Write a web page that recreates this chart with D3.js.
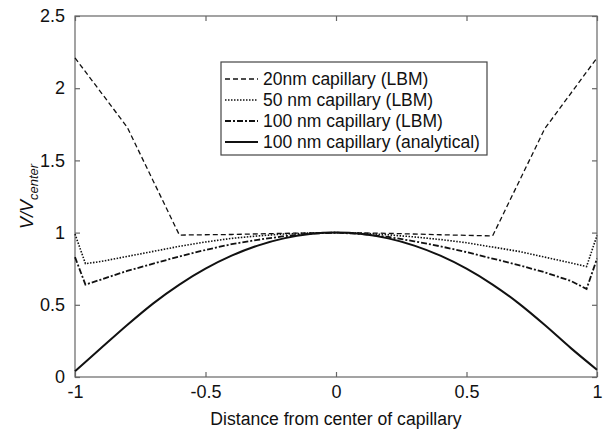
<!DOCTYPE html>
<html><head><meta charset="utf-8">
<script src="https://cdn.jsdelivr.net/npm/d3@7/dist/d3.min.js"></script>
<style>body{margin:0;background:#fff}svg{display:block}text{font-family:"Liberation Sans",Arial,sans-serif;fill:#111}</style>
</head><body><svg id="c" width="605" height="431"></svg>
<script>
// Data
const xs20 = [-1, -0.8, -0.6, -0.4, -0.2, 0, 0.2, 0.4, 0.6, 0.8, 1];
const v20  = [2.21, 1.73, 0.983, 0.987, 0.995, 1.0, 0.995, 0.985, 0.977, 1.72, 2.21];
const xsLBM = [-1, -0.96, -0.9, -0.8, -0.7, -0.6, -0.5, -0.4, -0.3, -0.2, -0.1, 0, 0.1, 0.2, 0.3, 0.4, 0.5, 0.6, 0.7, 0.8, 0.9, 0.96, 1];
const v50  = [0.99, 0.785, 0.80, 0.835, 0.87, 0.905, 0.935, 0.96, 0.977, 0.99, 0.997, 1.0, 0.996, 0.985, 0.97, 0.952, 0.93, 0.9, 0.87, 0.83, 0.79, 0.765, 0.98];
const v100 = [0.83, 0.64, 0.675, 0.735, 0.785, 0.835, 0.88, 0.92, 0.95, 0.975, 0.993, 1.0, 0.99, 0.97, 0.94, 0.905, 0.865, 0.82, 0.775, 0.725, 0.665, 0.61, 0.82];
const xsAn = [-1, -0.9, -0.8, -0.7, -0.6, -0.5, -0.4, -0.3, -0.2, -0.1, 0, 0.1, 0.2, 0.3, 0.4, 0.5, 0.6, 0.7, 0.8, 0.9, 1];
const vAn  = [0.04, 0.2, 0.36, 0.51, 0.64, 0.75, 0.84, 0.91, 0.96, 0.99, 1.0, 0.99, 0.96, 0.91, 0.84, 0.75, 0.64, 0.51, 0.36, 0.2, 0.05];
const xTicks = [-1, -0.5, 0, 0.5, 1];
const yTicks = [0, 0.5, 1, 1.5, 2, 2.5];
const legendLabels = ["20nm capillary (LBM)", "50 nm capillary (LBM)", "100 nm capillary (LBM)", "100 nm capillary (analytical)"];

const svg = d3.select("#c");
const L = 75, R = 597, T = 16, B = 377;
const x = d3.scaleLinear().domain([-1, 1]).range([L, R]);
const y = d3.scaleLinear().domain([0, 2.5]).range([B, T]);
const axisCol = "#666";

// box
svg.append("rect").attr("x", L).attr("y", T).attr("width", R - L).attr("height", B - T)
  .attr("fill", "none").attr("stroke", axisCol).attr("stroke-width", 1.2);

const tl = 5;
const fmt = d => String(d);
const axB = svg.append("g").attr("transform", `translate(0,${B})`)
  .call(d3.axisBottom(x).tickValues(xTicks).tickSize(-tl).tickPadding(tl + 3).tickFormat(fmt));
const axT = svg.append("g").attr("transform", `translate(0,${T})`)
  .call(d3.axisTop(x).tickValues(xTicks).tickSize(-tl).tickFormat(""));
const axL = svg.append("g").attr("transform", `translate(${L},0)`)
  .call(d3.axisLeft(y).tickValues(yTicks).tickSize(-tl).tickPadding(tl + 4).tickFormat(fmt));
const axR = svg.append("g").attr("transform", `translate(${R},0)`)
  .call(d3.axisRight(y).tickValues(yTicks).tickSize(-tl).tickFormat(""));
[axB, axT, axL, axR].forEach(g => {
  g.select(".domain").remove();
  g.selectAll(".tick line").attr("stroke", axisCol).attr("stroke-width", 1.2);
  g.selectAll(".tick text").attr("font-size", 18).attr("fill", "#111").attr("font-family", "Liberation Sans, Arial, sans-serif");
});
axL.selectAll(".tick text").attr("dx", -1);

// axis titles
svg.append("text").attr("x", x(0)).attr("y", 425).attr("text-anchor", "middle").attr("font-size", 17.6)
  .text("Distance from center of capillary");
const yl = svg.append("text").attr("transform", `translate(33,${y(1.25)}) rotate(-90)`).attr("text-anchor", "middle").attr("font-size", 18);
yl.append("tspan").attr("font-style", "italic").text("V/V");
yl.append("tspan").attr("font-style", "italic").attr("font-size", 13).attr("dy", 5).text("center");

const styles = [
  { dash: "5,3", w: 1.3 },
  { dash: "1.5,1.5", w: 1.6 },
  { dash: "6,2,2,2", w: 1.8 },
  { dash: null, w: 2 }
];
const series = [
  xs20.map((d, i) => [d, v20[i]]),
  xsLBM.map((d, i) => [d, v50[i]]),
  xsLBM.map((d, i) => [d, v100[i]]),
  xsAn.map((d, i) => [d, vAn[i]])
];
const line = d3.line().x(d => x(d[0])).y(d => y(d[1])).curve(d3.curveMonotoneX);
const lineLin = d3.line().x(d => x(d[0])).y(d => y(d[1]));
series.forEach((s, i) => {
  svg.append("path").attr("d", (i === 3 ? line : lineLin)(s)).attr("fill", "none")
    .attr("stroke", "#111").attr("stroke-width", styles[i].w)
    .attr("stroke-dasharray", styles[i].dash);
});

// legend
const lg = svg.append("g");
lg.append("rect").attr("x", 221).attr("y", 62).attr("width", 266).attr("height", 93)
  .attr("fill", "#fff").attr("stroke", "#444").attr("stroke-width", 1.2);
legendLabels.forEach((lab, i) => {
  const yy = 79 + i * 21;
  lg.append("line").attr("x1", 225).attr("x2", 258).attr("y1", yy).attr("y2", yy)
    .attr("stroke", "#111").attr("stroke-width", styles[i].w).attr("stroke-dasharray", styles[i].dash);
  lg.append("text").attr("x", 263).attr("y", yy + 6).attr("font-size", 17.5).text(lab);
});
</script></body></html>
